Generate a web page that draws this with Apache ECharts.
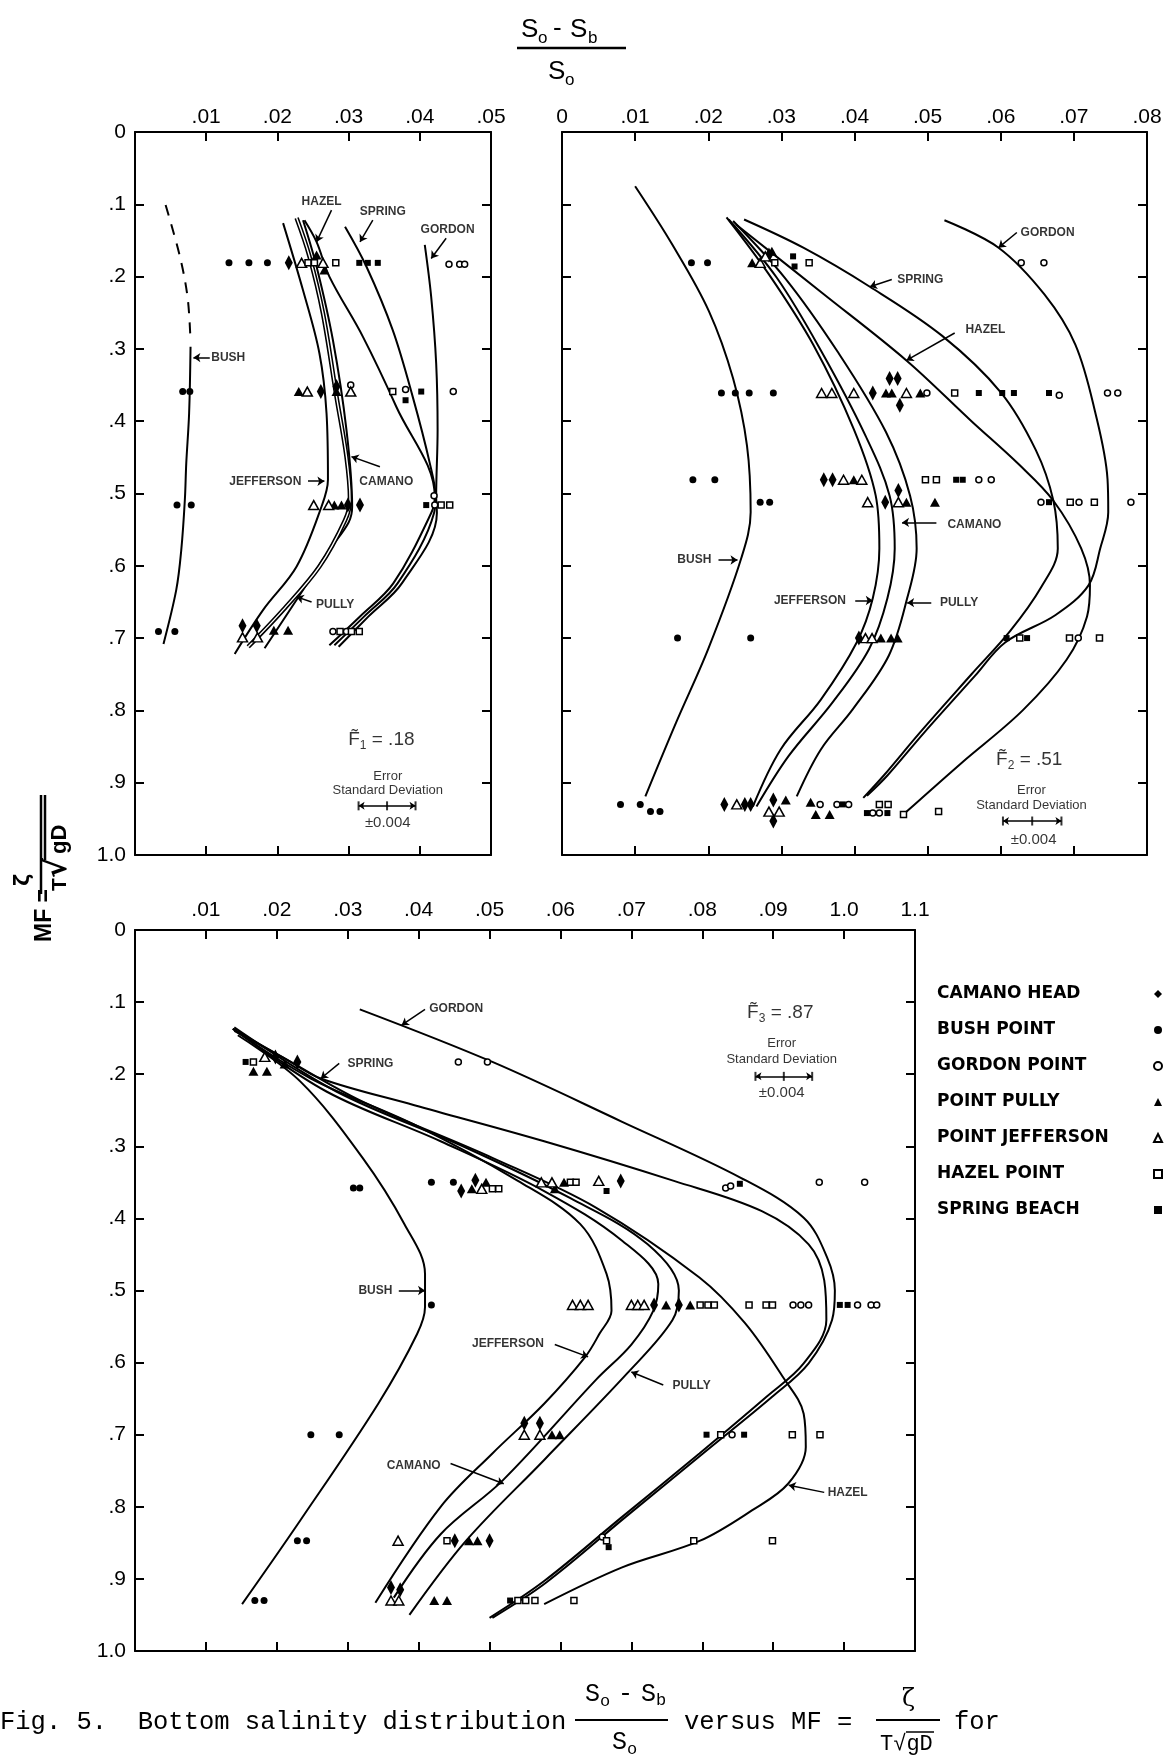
<!DOCTYPE html>
<html><head><meta charset="utf-8">
<script src="https://cdn.jsdelivr.net/npm/echarts@6/dist/echarts.min.js"></script>
<style>html,body{margin:0;padding:0;background:#fff}#c{width:1172px;height:1763px}</style>
</head><body><div id="c"></div>
<script>
// ---------------- tick labels ----------------
const X1_LABELS = ['', '.01', '.02', '.03', '.04', '.05'];
const X2_LABELS = ['0', '.01', '.02', '.03', '.04', '.05', '.06', '.07', '.08'];
const X3_LABELS = ['', '.01', '.02', '.03', '.04', '.05', '.06', '.07', '.08', '.09', '1.0', '1.1'];
const Y_LABELS = ['0', '.1', '.2', '.3', '.4', '.5', '.6', '.7', '.8', '.9', '1.0'];
const STATION_NAMES = ['CAMANO HEAD', 'BUSH POINT', 'GORDON POINT', 'POINT PULLY', 'POINT JEFFERSON', 'HAZEL POINT', 'SPRING BEACH'];
const F_VALUES = ['.18', '.51', '.87'];
const ERROR_SD = 0.004;

// ---------------- panel 1 (F1 = .18) observations [S ratio, MF] ----------------
const P1_CAMANO = [[0.0216,0.181],[0.0261,0.359],[0.0283,0.352],[0.0299,0.516],[0.0316,0.516],[0.0151,0.683],[0.0171,0.683]];
const P1_BUSH = [[0.0132,0.181],[0.0160,0.181],[0.0186,0.181],[0.0067,0.359],[0.0077,0.359],[0.0059,0.516],[0.0079,0.516],[0.0033,0.691],[0.0056,0.691]];
const P1_GORDON = [[0.0441,0.183],[0.0456,0.183],[0.0463,0.183],[0.0303,0.350],[0.0380,0.356],[0.0447,0.359],[0.0421,0.516],[0.0420,0.503],[0.0278,0.691],[0.0297,0.691]];
const P1_PULLY = [[0.0255,0.170],[0.0266,0.191],[0.0230,0.359],[0.0283,0.359],[0.0280,0.516],[0.0290,0.516],[0.0195,0.689],[0.0215,0.689]];
const P1_JEFFERSON = [[0.0234,0.181],[0.0264,0.181],[0.0242,0.359],[0.0303,0.359],[0.0251,0.516],[0.0272,0.516],[0.0151,0.699],[0.0172,0.699]];
const P1_HAZEL = [[0.0243,0.181],[0.0252,0.181],[0.0282,0.181],[0.0362,0.359],[0.0430,0.516],[0.0442,0.516],[0.0288,0.691],[0.0304,0.691],[0.0315,0.691]];
const P1_SPRING = [[0.0315,0.181],[0.0327,0.181],[0.0341,0.181],[0.0380,0.371],[0.0402,0.359],[0.0409,0.516]];

// panel 1 fitted curves
const C1_BUSH_DASH = [[0.0043,0.101],[0.0063,0.172],[0.0074,0.230],[0.0078,0.290]];
const C1_BUSH = [[0.0078,0.297],[0.0076,0.389],[0.0072,0.458],[0.0070,0.509],[0.0065,0.578],[0.0058,0.633],[0.0040,0.708]];
const C1_JEFFERSON = [[0.0208,0.126],[0.0236,0.219],[0.0259,0.306],[0.0269,0.389],[0.0271,0.481],[0.0262,0.518],[0.0227,0.601],[0.0180,0.661],[0.0140,0.722]];
const C1_CAMANO = [[0.0227,0.119],[0.0245,0.172],[0.0264,0.251],[0.0283,0.366],[0.0297,0.449],[0.0302,0.509],[0.0295,0.537],[0.0259,0.601],[0.0208,0.661],[0.0159,0.712]];
const C1_PULLY = [[0.0236,0.122],[0.0255,0.186],[0.0278,0.288],[0.0297,0.412],[0.0305,0.518],[0.0300,0.540],[0.0273,0.578],[0.0227,0.647],[0.0182,0.714]];
const C1_HAZEL = [[0.0238,0.122],[0.0255,0.152],[0.0273,0.200],[0.0320,0.283],[0.0367,0.380],[0.0421,0.504],[0.0416,0.527],[0.0363,0.624],[0.0316,0.670],[0.0273,0.710]];
const C1_SPRING = [[0.0295,0.131],[0.0325,0.186],[0.0362,0.274],[0.0390,0.366],[0.0414,0.458],[0.0422,0.504],[0.0420,0.527],[0.0369,0.624],[0.0322,0.670],[0.0280,0.710]];
const C1_GORDON = [[0.0407,0.156],[0.0416,0.228],[0.0423,0.320],[0.0425,0.412],[0.0423,0.504],[0.0424,0.527],[0.0375,0.624],[0.0328,0.670],[0.0286,0.712]];

// ---------------- panel 2 (F2 = .51) ----------------
const P2_CAMANO = [[0.0283,0.170],[0.0425,0.361],[0.0448,0.341],[0.0459,0.341],[0.0462,0.378],[0.0358,0.481],[0.0370,0.481],[0.0442,0.512],[0.0460,0.496],[0.0406,0.700],[0.0222,0.930],[0.0250,0.930],[0.0258,0.930],[0.0289,0.924],[0.0289,0.953]];
const P2_BUSH = [[0.0177,0.181],[0.0199,0.181],[0.0218,0.361],[0.0237,0.361],[0.0256,0.361],[0.0289,0.361],[0.0179,0.481],[0.0209,0.481],[0.0271,0.512],[0.0284,0.512],[0.0158,0.700],[0.0258,0.700],[0.0080,0.930],[0.0107,0.930],[0.0121,0.940],[0.0134,0.940]];
const P2_GORDON = [[0.0628,0.181],[0.0659,0.181],[0.0499,0.361],[0.0680,0.364],[0.0746,0.361],[0.0760,0.361],[0.0570,0.481],[0.0587,0.481],[0.0655,0.512],[0.0707,0.512],[0.0778,0.512],[0.0706,0.700],[0.0353,0.930],[0.0376,0.930],[0.0392,0.930],[0.0425,0.942],[0.0434,0.942]];
const P2_PULLY = [[0.0260,0.181],[0.0287,0.165],[0.0443,0.361],[0.0451,0.361],[0.0490,0.361],[0.0399,0.481],[0.0471,0.512],[0.0510,0.512],[0.0436,0.700],[0.0450,0.700],[0.0459,0.700],[0.0306,0.924],[0.0340,0.927],[0.0347,0.944],[0.0366,0.944]];
const P2_JEFFERSON = [[0.0271,0.181],[0.0278,0.172],[0.0355,0.361],[0.0369,0.361],[0.0399,0.361],[0.0471,0.361],[0.0385,0.481],[0.0410,0.481],[0.0418,0.512],[0.0460,0.512],[0.0415,0.700],[0.0424,0.700],[0.0239,0.930],[0.0283,0.940],[0.0297,0.940]];
const P2_HAZEL = [[0.0291,0.181],[0.0338,0.181],[0.0537,0.361],[0.0497,0.481],[0.0512,0.481],[0.0695,0.512],[0.0728,0.512],[0.0626,0.700],[0.0694,0.700],[0.0735,0.700],[0.0434,0.930],[0.0446,0.930],[0.0467,0.944],[0.0515,0.940]];
const P2_SPRING = [[0.0316,0.172],[0.0318,0.186],[0.0570,0.361],[0.0602,0.361],[0.0618,0.361],[0.0666,0.361],[0.0539,0.481],[0.0548,0.481],[0.0666,0.512],[0.0608,0.700],[0.0636,0.700],[0.0384,0.930],[0.0417,0.942],[0.0445,0.942]];

const C2_BUSH = [[0.0100,0.075],[0.0151,0.156],[0.0201,0.248],[0.0234,0.341],[0.0253,0.434],[0.0258,0.526],[0.0245,0.590],[0.0200,0.715],[0.0156,0.817],[0.0114,0.919]];
const C2_JEFFERSON = [[0.0225,0.118],[0.0283,0.197],[0.0344,0.295],[0.0399,0.411],[0.0429,0.503],[0.0434,0.576],[0.0425,0.645],[0.0403,0.706],[0.0354,0.785],[0.0299,0.854],[0.0261,0.933]];
const C2_CAMANO = [[0.0228,0.121],[0.0294,0.202],[0.0355,0.304],[0.0415,0.420],[0.0448,0.503],[0.0455,0.576],[0.0445,0.645],[0.0420,0.715],[0.0370,0.789],[0.0310,0.863],[0.0266,0.933]];
const C2_PULLY = [[0.0234,0.123],[0.0305,0.202],[0.0377,0.304],[0.0443,0.415],[0.0476,0.503],[0.0485,0.576],[0.0472,0.645],[0.0447,0.724],[0.0398,0.798],[0.0354,0.854],[0.0321,0.919]];
const C2_SPRING = [[0.0249,0.121],[0.0330,0.160],[0.0421,0.214],[0.0520,0.282],[0.0600,0.360],[0.0648,0.440],[0.0672,0.510],[0.0678,0.576],[0.0655,0.630],[0.0613,0.690],[0.0560,0.750],[0.0490,0.830],[0.0440,0.890],[0.0412,0.921]];
const C2_HAZEL = [[0.0238,0.128],[0.0355,0.222],[0.0471,0.316],[0.0560,0.400],[0.0625,0.460],[0.0672,0.510],[0.0710,0.576],[0.0722,0.627],[0.0718,0.670],[0.0690,0.730],[0.0630,0.800],[0.0546,0.873],[0.0469,0.942]];
const C2_GORDON = [[0.0523,0.122],[0.0597,0.160],[0.0660,0.225],[0.0702,0.294],[0.0729,0.387],[0.0746,0.480],[0.0747,0.526],[0.0736,0.576],[0.0720,0.627],[0.0675,0.668],[0.0606,0.706],[0.0565,0.752],[0.0495,0.831],[0.0445,0.890],[0.0417,0.918]];

// ---------------- panel 3 (F3 = .87) ----------------
const P3_CAMANO = [[0.0229,0.183],[0.0198,0.176],[0.0460,0.362],[0.0480,0.347],[0.0685,0.348],[0.0732,0.520],[0.0767,0.520],[0.0549,0.684],[0.0571,0.684],[0.0451,0.847],[0.0500,0.847],[0.0361,0.912],[0.0374,0.915]];
const P3_BUSH = [[0.0308,0.358],[0.0317,0.358],[0.0418,0.350],[0.0449,0.350],[0.0418,0.520],[0.0248,0.700],[0.0288,0.700],[0.0229,0.847],[0.0242,0.847],[0.0169,0.930],[0.0182,0.930]];
const P3_GORDON = [[0.0456,0.183],[0.0497,0.183],[0.0833,0.358],[0.0840,0.355],[0.0965,0.350],[0.1029,0.350],[0.0928,0.520],[0.0939,0.520],[0.0950,0.520],[0.1019,0.520],[0.1038,0.520],[0.1046,0.520],[0.0842,0.700],[0.0659,0.842]];
const P3_PULLY = [[0.0167,0.196],[0.0186,0.196],[0.0211,0.186],[0.0475,0.359],[0.0495,0.350],[0.0592,0.359],[0.0605,0.350],[0.0749,0.520],[0.0783,0.520],[0.0588,0.700],[0.0599,0.700],[0.0471,0.847],[0.0483,0.847],[0.0422,0.930],[0.0440,0.930]];
const P3_JEFFERSON = [[0.0183,0.176],[0.0489,0.359],[0.0573,0.350],[0.0588,0.350],[0.0654,0.348],[0.0617,0.520],[0.0628,0.520],[0.0639,0.520],[0.0700,0.520],[0.0709,0.520],[0.0718,0.520],[0.0549,0.700],[0.0571,0.700],[0.0371,0.847],[0.0361,0.930],[0.0372,0.930]];
const P3_HAZEL = [[0.0167,0.183],[0.0504,0.359],[0.0513,0.359],[0.0614,0.350],[0.0622,0.350],[0.0797,0.520],[0.0808,0.520],[0.0817,0.520],[0.0866,0.520],[0.0890,0.520],[0.0899,0.520],[0.0826,0.700],[0.0927,0.700],[0.0966,0.700],[0.0440,0.847],[0.0665,0.847],[0.0788,0.847],[0.0899,0.847],[0.0540,0.930],[0.0551,0.930],[0.0564,0.930],[0.0619,0.930]];
const P3_SPRING = [[0.0156,0.183],[0.0665,0.362],[0.0853,0.352],[0.0994,0.520],[0.1005,0.520],[0.0806,0.700],[0.0859,0.700],[0.0668,0.856],[0.0529,0.930]];

const C3_BUSH = [[0.0145,0.146],[0.0233,0.210],[0.0321,0.316],[0.0380,0.408],[0.0409,0.477],[0.0409,0.523],[0.0398,0.560],[0.0343,0.657],[0.0233,0.819],[0.0151,0.935]];
const C3_JEFFERSON = [[0.0138,0.137],[0.0248,0.206],[0.0394,0.270],[0.0540,0.348],[0.0628,0.408],[0.0665,0.477],[0.0672,0.528],[0.0655,0.560],[0.0635,0.592],[0.0577,0.657],[0.0504,0.726],[0.0431,0.800],[0.0339,0.933]];
const C3_CAMANO = [[0.0138,0.137],[0.0270,0.224],[0.0431,0.293],[0.0577,0.362],[0.0687,0.431],[0.0738,0.491],[0.0731,0.528],[0.0700,0.575],[0.0650,0.624],[0.0519,0.763],[0.0431,0.838],[0.0365,0.926]];
const C3_PULLY = [[0.0140,0.135],[0.0284,0.224],[0.0467,0.302],[0.0614,0.372],[0.0723,0.436],[0.0767,0.500],[0.0758,0.541],[0.0694,0.615],[0.0577,0.735],[0.0467,0.847],[0.0387,0.950]];
const C3_HAZEL = [[0.0138,0.137],[0.0211,0.178],[0.0321,0.238],[0.0504,0.316],[0.0650,0.385],[0.0796,0.482],[0.0860,0.545],[0.0913,0.619],[0.0943,0.671],[0.0946,0.717],[0.0921,0.768],[0.0870,0.805],[0.0797,0.847],[0.0687,0.884],[0.0577,0.935]];
const C3_SPRING = [[0.0140,0.140],[0.0211,0.178],[0.0262,0.206],[0.0394,0.243],[0.0577,0.293],[0.0760,0.348],[0.0884,0.390],[0.0950,0.436],[0.0972,0.486],[0.0975,0.541],[0.0943,0.601],[0.0891,0.647],[0.0796,0.726],[0.0687,0.814],[0.0577,0.903],[0.0500,0.954]];
const C3_GORDON = [[0.0317,0.110],[0.0504,0.183],[0.0687,0.266],[0.0855,0.344],[0.0943,0.399],[0.0976,0.454],[0.0987,0.500],[0.0983,0.541],[0.0950,0.601],[0.0899,0.647],[0.0801,0.726],[0.0692,0.814],[0.0580,0.905],[0.0504,0.954]];

// ---------------- curve name labels and their arrows ----------------
const P1_NOTES = [['HAZEL',0.0262,0.096],['SPRING',0.0348,0.110],['GORDON',0.0439,0.135],['BUSH',0.0131,0.312],['JEFFERSON',0.0183,0.483],['CAMANO',0.0353,0.483],['PULLY',0.0281,0.654]];
const P1_ARROWS = [[[0.0276,0.108],[0.0255,0.152]],[[0.0334,0.122],[0.0316,0.152]],[[0.0437,0.147],[0.0416,0.175]],[[0.0105,0.312],[0.0082,0.312]],[[0.0243,0.483],[0.0266,0.483]],[[0.0344,0.463],[0.0304,0.449]],[[0.0248,0.650],[0.0227,0.643]]];
const P2_NOTES = [['GORDON',0.0664,0.139],['SPRING',0.0490,0.204],['HAZEL',0.0579,0.274],['CAMANO',0.0564,0.543],['BUSH',0.0181,0.592],['JEFFERSON',0.0339,0.648],['PULLY',0.0543,0.651]];
const P2_ARROWS = [[[0.0622,0.139],[0.0597,0.160]],[[0.0451,0.204],[0.0421,0.214]],[[0.0537,0.278],[0.0471,0.316]],[[0.0512,0.540],[0.0465,0.540]],[[0.0214,0.592],[0.0240,0.592]],[[0.0401,0.648],[0.0425,0.648]],[[0.0505,0.651],[0.0472,0.651]]];
const P3_NOTES = [['GORDON',0.0453,0.109],['SPRING',0.0332,0.185],['BUSH',0.0339,0.500],['JEFFERSON',0.0526,0.574],['PULLY',0.0785,0.632],['CAMANO',0.0393,0.743],['HAZEL',0.1005,0.780]];
const P3_ARROWS = [[[0.0409,0.110],[0.0376,0.132]],[[0.0288,0.185],[0.0262,0.206]],[[0.0372,0.500],[0.0409,0.500]],[[0.0592,0.575],[0.0639,0.592]],[[0.0745,0.631],[0.0700,0.613]],[[0.0445,0.740],[0.0520,0.768]],[[0.0972,0.780],[0.0922,0.770]]];

// F value label, "Error", "Standard Deviation", error bar centre, "±0.004"
const P1_BOX = [[0.0346,0.841],[0.0355,0.892],[0.0355,0.911],[0.0354,0.932],[0.0355,0.956]];
const P2_BOX = [[0.0639,0.868],[0.0642,0.910],[0.0642,0.931],[0.0643,0.953],[0.0645,0.979]];
const P3_BOX = [[0.0910,0.115],[0.0912,0.157],[0.0912,0.180],[0.0915,0.203],[0.0912,0.226]];

// ---------------- build chart ----------------
const FONT = 'Liberation Sans';
const STYLES = [
  {symbol:'diamond', size:[8,15], fill:'#000', open:false},
  {symbol:'circle', size:7, fill:'#000', open:false},
  {symbol:'circle', size:6, fill:'#fff', open:true},
  {symbol:'triangle', size:[10,9], fill:'#000', open:false},
  {symbol:'triangle', size:[10,9], fill:'#fff', open:true},
  {symbol:'rect', size:6, fill:'#fff', open:true},
  {symbol:'rect', size:6, fill:'#000', open:false}
];
const PANEL_POINTS = [
  [P1_CAMANO,P1_BUSH,P1_GORDON,P1_PULLY,P1_JEFFERSON,P1_HAZEL,P1_SPRING],
  [P2_CAMANO,P2_BUSH,P2_GORDON,P2_PULLY,P2_JEFFERSON,P2_HAZEL,P2_SPRING],
  [P3_CAMANO,P3_BUSH,P3_GORDON,P3_PULLY,P3_JEFFERSON,P3_HAZEL,P3_SPRING]
];
const PANEL_CURVES = [
  [[C1_BUSH_DASH,'dashed'],[C1_BUSH,'solid'],[C1_JEFFERSON,'solid'],[C1_CAMANO,'double'],[C1_PULLY,'solid'],[C1_HAZEL,'solid'],[C1_SPRING,'solid'],[C1_GORDON,'solid']],
  [[C2_BUSH,'solid'],[C2_JEFFERSON,'solid'],[C2_CAMANO,'solid'],[C2_PULLY,'solid'],[C2_SPRING,'solid'],[C2_HAZEL,'solid'],[C2_GORDON,'solid']],
  [[C3_BUSH,'solid'],[C3_JEFFERSON,'solid'],[C3_CAMANO,'solid'],[C3_PULLY,'solid'],[C3_HAZEL,'solid'],[C3_SPRING,'solid'],[C3_GORDON,'solid']]
];
const PANEL_NOTES = [[P1_NOTES,P1_ARROWS],[P2_NOTES,P2_ARROWS],[P3_NOTES,P3_ARROWS]];
const PANEL_BOX = [P1_BOX,P2_BOX,P3_BOX];
const X_MAX = [0.05, 0.08, 0.11];
const X_LABELS = [X1_LABELS, X2_LABELS, X3_LABELS];
const X_MARGIN = [4, 4, 9];
const GRIDS = [
  {left:135, top:132, width:356, height:723},
  {left:562, top:132, width:585, height:723},
  {left:135, top:930, width:780, height:721}
];

const axisLine = {show:true, onZero:false, lineStyle:{color:'#000', width:2}};
const axisTick = {show:true, inside:true, length:9, lineStyle:{color:'#000', width:2}};
const xAxis = [], yAxis = [];
for (let g = 0; g < 3; g++) {
  const labels = X_LABELS[g];
  const base = {type:'value', gridIndex:g, min:0, max:X_MAX[g], interval:0.01, axisLine, axisTick, splitLine:{show:false}};
  xAxis.push(Object.assign({}, base, {position:'top', axisLabel:{show:true, showMinLabel:true, showMaxLabel:true, margin:X_MARGIN[g], color:'#000', fontSize:21, fontFamily:FONT,
    formatter: v => labels[Math.round(v * 100)] || ''}}));
  xAxis.push(Object.assign({}, base, {position:'bottom', axisLabel:{show:false}}));
  const yb = {type:'value', gridIndex:g, min:0, max:1, interval:0.1, inverse:true, axisLine, axisTick, splitLine:{show:false}};
  yAxis.push(Object.assign({}, yb, {position:'left', axisLabel:{show:g !== 1, showMinLabel:true, showMaxLabel:true, margin:9, color:'#000', fontSize:21, fontFamily:FONT,
    formatter: v => Y_LABELS[Math.round(v * 10)]}}));
  yAxis.push(Object.assign({}, yb, {position:'right', axisLabel:{show:false}}));
}

const series = [];
for (let g = 0; g < 3; g++) {
  const xi = 2 * g, yi = 2 * g;
  PANEL_CURVES[g].forEach(([data, kind]) => {
    const common = {type:'line', xAxisIndex:xi, yAxisIndex:yi, data, symbol:'none', showSymbol:false, smooth:0.35, silent:true, z:2};
    if (kind === 'double') {
      series.push(Object.assign({}, common, {lineStyle:{color:'#000', width:4.5}}));
      series.push(Object.assign({}, common, {z:3, lineStyle:{color:'#fff', width:1.4}}));
    } else {
      series.push(Object.assign({}, common, {lineStyle:{color:'#000', width:2, type: kind === 'dashed' ? [11, 9] : 'solid'}}));
    }
  });
  PANEL_POINTS[g].forEach((data, k) => {
    const s = STYLES[k];
    series.push({type:'scatter', name:STATION_NAMES[k], xAxisIndex:xi, yAxisIndex:yi, data, symbol:s.symbol, symbolSize:s.size, silent:true, z:4,
      itemStyle:{color:s.fill, borderColor:'#000', borderWidth:s.open ? 1.5 : 0, opacity:1}});
  });
  const [notes, arrows] = PANEL_NOTES[g];
  series.push({type:'scatter', xAxisIndex:xi, yAxisIndex:yi, symbol:'circle', symbolSize:1, silent:true, z:5,
    itemStyle:{color:'rgba(0,0,0,0)'},
    label:{show:true, position:'inside', color:'#000', fontFamily:FONT, fontWeight:'bold', fontSize:12},
    data: notes.map(n => ({value:[n[1], n[2]], label:{formatter:n[0]}})),
    markLine:{silent:true, animation:false, symbol:['none','arrow'], symbolSize:7, label:{show:false},
      lineStyle:{color:'#000', width:1.5, type:'solid'},
      data: arrows.map(a => [{coord:a[0]}, {coord:a[1]}])}
  });
  const box = PANEL_BOX[g];
  const bar = box[3];
  series.push({type:'scatter', xAxisIndex:xi, yAxisIndex:yi, symbol:'circle', symbolSize:1, silent:true, z:5,
    itemStyle:{color:'rgba(0,0,0,0)'},
    label:{show:true, position:'inside', color:'#000', fontFamily:FONT},
    data:[
      {value:box[0], label:{formatter:'{f|F\u0303}{s|' + (g + 1) + '}{f| = ' + F_VALUES[g] + '}',
        rich:{f:{fontSize:19, fontFamily:FONT, color:'#000'}, s:{fontSize:12, fontFamily:FONT, color:'#000', padding:[12,0,0,0]}}}},
      {value:box[1], label:{formatter:'Error', fontSize:13}},
      {value:box[2], label:{formatter:'Standard Deviation', fontSize:13}},
      {value:box[4], label:{formatter:'\u00b1' + ERROR_SD.toFixed(3), fontSize:15}}
    ],
    markLine:{silent:true, animation:false, symbol:['arrow','arrow'], symbolSize:6, label:{show:false},
      lineStyle:{color:'#000', width:1.5, type:'solid'},
      data:[[{coord:[bar[0] - ERROR_SD, bar[1]]}, {coord:[bar[0] + ERROR_SD, bar[1]]}]]}
  });
  series.push({type:'scatter', xAxisIndex:xi, yAxisIndex:yi, symbol:'rect', symbolSize:[2,9], silent:true, z:5,
    itemStyle:{color:'#000'},
    data:[[bar[0] - ERROR_SD, bar[1]], [bar[0], bar[1]], [bar[0] + ERROR_SD, bar[1]]]});
}

const T = (text, x, y, font, extra) => ({type:'text', silent:true, style:Object.assign({text, x, y, font, fill:'#000', textAlign:'left', textVerticalAlign:'middle', align:'left', verticalAlign:'middle'}, extra || {})});
const graphic = [
  // top axis title fraction
  T('S', 521, 30, '26px "Liberation Sans"'),
  T('o', 538, 38, '17px "Liberation Sans"'),
  T('-', 553, 29, '26px "Liberation Sans"'),
  T('S', 570, 30, '26px "Liberation Sans"'),
  T('b', 588, 38, '17px "Liberation Sans"'),
  {type:'line', silent:true, shape:{x1:517, y1:48, x2:626, y2:48}, style:{stroke:'#000', lineWidth:2.5}},
  T('S', 548, 72, '26px "Liberation Sans"'),
  T('o', 565, 80, '17px "Liberation Sans"'),
  // rotated y title: MF = zeta / (T sqrt(gD))
  {type:'group', x:45, y:942, rotation:Math.PI / 2, silent:true, children:[
    T('MF =', 0, 0, 'bold 23px "Liberation Sans"'),
    T('\u03b6', 56, -21, 'bold 21px "DejaVu Sans"'),
    {type:'line', shape:{x1:48, y1:-4, x2:147, y2:-4}, style:{stroke:'#000', lineWidth:2.5}},
    T('T', 51, 15, 'bold 21px "Liberation Sans"'),
    T('\u221a', 64, 13, 'bold 30px "DejaVu Sans"'),
    {type:'line', shape:{x1:82, y1:0, x2:147, y2:0}, style:{stroke:'#000', lineWidth:2.5}},
    T('gD', 88, 15, 'bold 22px "Liberation Sans"')
  ]},
  // caption
  T('Fig. 5.  Bottom salinity distribution', 0, 1722, '25.5px "Liberation Mono"'),
  T('S', 585, 1694, '25px "Liberation Mono"'),
  T('o', 600, 1701, '17px "Liberation Mono"'),
  T('-', 618, 1694, '25px "Liberation Mono"'),
  T('S', 641, 1694, '25px "Liberation Mono"'),
  T('b', 656, 1700, '17px "Liberation Mono"'),
  {type:'line', silent:true, shape:{x1:575, y1:1720, x2:668, y2:1720}, style:{stroke:'#000', lineWidth:1.8}},
  T('S', 612, 1742, '25px "Liberation Mono"'),
  T('o', 627, 1749, '17px "Liberation Mono"'),
  T('versus MF =', 684, 1722, '25.5px "Liberation Mono"'),
  T('\u03b6', 902, 1700, '24px "DejaVu Serif"'),
  {type:'line', silent:true, shape:{x1:876, y1:1720, x2:940, y2:1720}, style:{stroke:'#000', lineWidth:1.8}},
  T('T\u221agD', 880, 1744, '22px "Liberation Mono"'),
  {type:'line', silent:true, shape:{x1:906, y1:1732, x2:934, y2:1732}, style:{stroke:'#000', lineWidth:1.5}},
  T('for', 954, 1722, '25.5px "Liberation Mono"')
];

const chart = echarts.init(document.getElementById('c'), null, {renderer:'canvas', width:1172, height:1763});
chart.setOption({
  backgroundColor:'#fff',
  animation:false,
  grid: GRIDS,
  xAxis, yAxis,
  legend:{data:STATION_NAMES, orient:'vertical', left:932, top:979, itemGap:16, itemWidth:8, itemHeight:8, align:'right', selectedMode:false,
    formatter: name => '{n|' + name + '}',
    textStyle:{fontFamily:'DejaVu Sans', fontWeight:'bold', fontSize:17, color:'#000', lineHeight:20,
      rich:{n:{width:212, align:'left', fontFamily:'DejaVu Sans', fontWeight:'bold', fontSize:17, color:'#000', lineHeight:20}}}},
  series,
  graphic
});
</script></body></html>
